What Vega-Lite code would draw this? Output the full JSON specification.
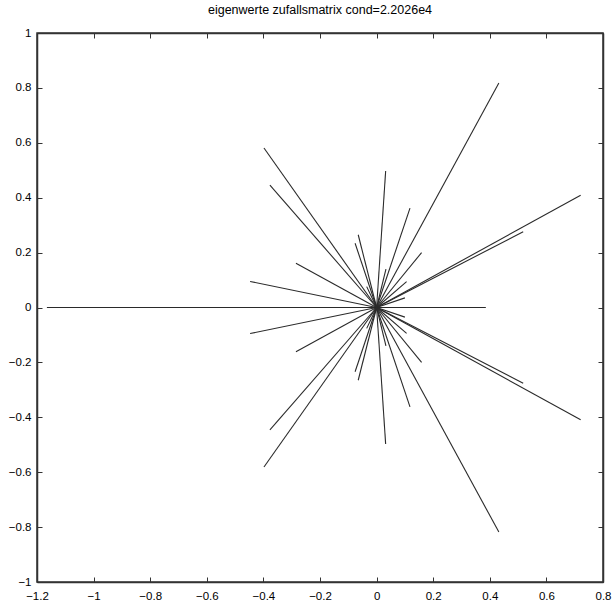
{
  "$schema": "https://vega.github.io/schema/vega-lite/v6.json",
  "autosize": {"type": "none"},
  "padding": {"left": 37, "top": 33, "right": 9, "bottom": 22},
  "width": 566,
  "height": 549,
  "background": "white",
  "title": {
    "text": "eigenwerte zufallsmatrix cond=2.2026e4",
    "font": "Liberation Sans",
    "fontSize": 12.5,
    "fontWeight": "normal",
    "color": "black",
    "anchor": "middle",
    "offset": 11
  },
  "config": {
    "view": {"stroke": "#333", "strokeWidth": 1.5},
    "axis": {
      "grid": false,
      "domainColor": "#333",
      "domainWidth": 1.5,
      "tickColor": "#333",
      "tickSize": -5,
      "labelFont": "Liberation Sans",
      "labelFontSize": 11.5,
      "labelColor": "black",
      "title": null
    }
  },
  "data": {
    "values": [
      {"re": 0.432, "im": 0.818}, {"re": 0.432, "im": -0.818},
      {"re": 0.721, "im": 0.409}, {"re": 0.721, "im": -0.409},
      {"re": 0.518, "im": 0.276}, {"re": 0.518, "im": -0.276},
      {"re": 0.386, "im": 0},
      {"re": 0.235, "im": 0},
      {"re": -0.168, "im": 0},
      {"re": -1.165, "im": 0},
      {"re": -0.398, "im": 0.581}, {"re": -0.398, "im": -0.581},
      {"re": -0.377, "im": 0.446}, {"re": -0.377, "im": -0.446},
      {"re": -0.285, "im": 0.161}, {"re": -0.285, "im": -0.161},
      {"re": -0.447, "im": 0.095}, {"re": -0.447, "im": -0.095},
      {"re": -0.065, "im": 0.265}, {"re": -0.065, "im": -0.265},
      {"re": -0.076, "im": 0.234}, {"re": -0.076, "im": -0.234},
      {"re": 0.032, "im": 0.497}, {"re": 0.032, "im": -0.497},
      {"re": 0.118, "im": 0.362}, {"re": 0.118, "im": -0.362},
      {"re": 0.159, "im": 0.2}, {"re": 0.159, "im": -0.2},
      {"re": 0.106, "im": 0.094}, {"re": 0.106, "im": -0.094},
      {"re": 0.033, "im": 0.14}, {"re": 0.033, "im": -0.14},
      {"re": 0.1, "im": 0.035}, {"re": 0.1, "im": -0.035},
      {"re": -0.035, "im": 0.076}, {"re": -0.035, "im": -0.076}
    ]
  },
  "layer": [
    {
      "mark": {"type": "rule", "color": "#2a2a2a", "strokeWidth": 1.1},
      "encoding": {
        "x": {
          "field": "re", "type": "quantitative",
          "scale": {"domain": [-1.2, 0.8], "nice": false, "zero": false},
          "axis": {
            "orient": "bottom",
            "values": [-1.2, -1, -0.8, -0.6, -0.4, -0.2, 0, 0.2, 0.4, 0.6, 0.8],
            "format": "~g",
            "labelPadding": 13,
            "labelFlush": false
          }
        },
        "y": {
          "field": "im", "type": "quantitative",
          "scale": {"domain": [-1, 1], "nice": false, "zero": false},
          "axis": {
            "orient": "left",
            "values": [-1, -0.8, -0.6, -0.4, -0.2, 0, 0.2, 0.4, 0.6, 0.8, 1],
            "format": "~g",
            "labelPadding": 11,
            "labelFlush": false
          }
        },
        "x2": {"datum": 0},
        "y2": {"datum": 0}
      }
    },
    {
      "mark": {"type": "rule", "opacity": 0},
      "encoding": {
        "x": {
          "field": "re", "type": "quantitative",
          "axis": {
            "orient": "top",
            "values": [-1.2, -1, -0.8, -0.6, -0.4, -0.2, 0, 0.2, 0.4, 0.6, 0.8],
            "labels": false
          }
        },
        "y": {
          "field": "im", "type": "quantitative",
          "axis": {
            "orient": "right",
            "values": [-1, -0.8, -0.6, -0.4, -0.2, 0, 0.2, 0.4, 0.6, 0.8, 1],
            "labels": false
          }
        },
        "x2": {"datum": 0},
        "y2": {"datum": 0}
      }
    }
  ],
  "resolve": {"axis": {"x": "independent", "y": "independent"}}
}
